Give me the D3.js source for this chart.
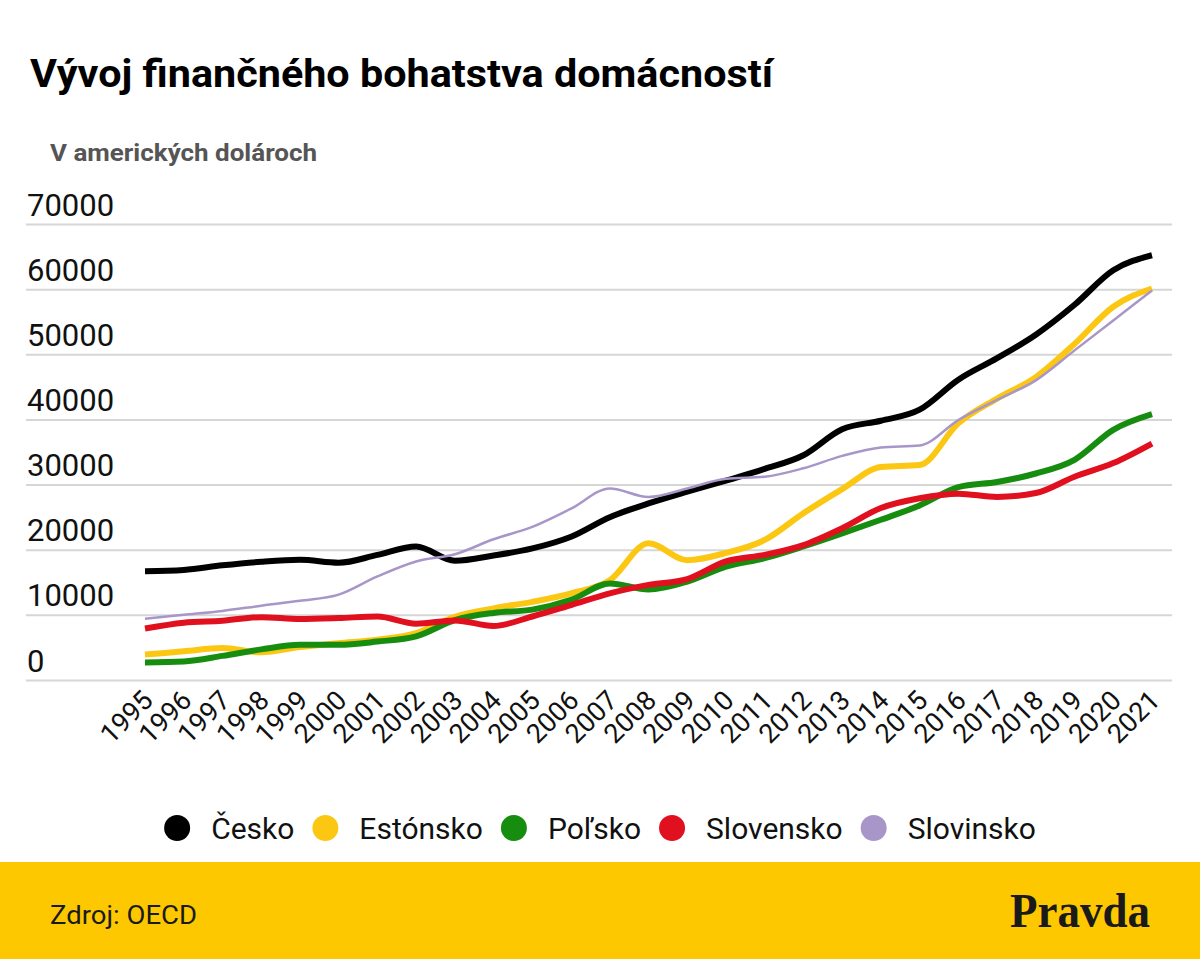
<!DOCTYPE html>
<html>
<head>
<meta charset="utf-8">
<script src="https://cdn.jsdelivr.net/npm/d3@7"></script>
<style>
  html, body { margin: 0; padding: 0; background: #fff; }
  svg { display: block; }
</style>
</head>
<body>
<svg id="chart" width="1200" height="959" font-family="Roboto, 'Noto Sans', sans-serif"></svg>
<script>
const years = [1995,1996,1997,1998,1999,2000,2001,2002,2003,2004,2005,2006,2007,2008,2009,2010,2011,2012,2013,2014,2015,2016,2017,2018,2019,2020,2021];
const cesko      = [16700,16900,17600,18150,18450,18000,19200,20500,18300,19100,20200,22000,25000,27100,28900,30600,32400,34500,38500,39800,41500,46100,49400,53000,57600,62900,65200];
const estonsko   = [3900,4400,4900,4250,5050,5650,6200,7200,9700,11000,12000,13300,15300,21000,18400,19500,21500,25600,29300,32700,33000,39400,43200,46500,51600,57300,60100];
const polsko     = [2700,2850,3700,4700,5400,5400,5900,6700,9200,10300,10800,12300,14800,13900,15100,17400,18700,20500,22500,24600,26800,29600,30400,31700,33800,38400,40800];
const slovensko  = [7900,8800,9100,9650,9350,9500,9750,8650,9150,8300,9750,11500,13300,14600,15500,18200,19200,20700,23300,26400,27900,28600,28100,28700,31200,33300,36300];
const slovinsko  = [9400,10000,10600,11400,12150,13100,15900,18200,19300,21600,23500,26300,29400,28100,29400,30900,31200,32500,34400,35700,36000,39900,43000,46000,50600,55200,59800];
const yTicks = [0,10000,20000,30000,40000,50000,60000,70000];
const seriesNames  = ["Česko","Estónsko","Poľsko","Slovensko","Slovinsko"];
const seriesColors = ["#000000","#fcc713","#178d10","#e1101f","#a996c9"];
const seriesWidths = [6,6,6,6,2.5];
const seriesValues = [cesko, estonsko, polsko, slovensko, slovinsko];
const title = "Vývoj finančného bohatstva domácností";
const subtitle = "V amerických dolároch";
const source = "Zdroj: OECD";
const brand = "Pravda";

const svg = d3.select("#chart");

const x = d3.scalePoint().domain(years).range([145, 1152]);
const y = d3.scaleLinear().domain([0, 70000]).range([680, 224]);

// Title & subtitle
svg.append("text").attr("x", 30).attr("y", 87)
  .attr("font-size", 39).attr("font-weight", 700).attr("fill", "#000")
  .attr("textLength", 743).attr("lengthAdjust", "spacingAndGlyphs")
  .text(title);
svg.append("text").attr("x", 50).attr("y", 161)
  .attr("font-size", 24).attr("font-weight", 700).attr("fill", "#555")
  .attr("textLength", 267).attr("lengthAdjust", "spacingAndGlyphs")
  .text(subtitle);

// Y grid + labels
const yAxis = d3.axisLeft(y).tickValues(yTicks).tickSize(0).tickFormat(d3.format("d"));
const gy = svg.append("g").call(yAxis);
gy.attr("font-family", null).attr("font-size", null);
gy.select(".domain").remove();
gy.selectAll(".tick line").remove();
gy.selectAll(".tick").append("line")
  .attr("x1", 26).attr("x2", 1172).attr("y1", 0).attr("y2", 0)
  .attr("stroke", "#d6d6d6").attr("stroke-width", 2);
gy.selectAll(".tick text")
  .attr("x", 27).attr("dy", -9).attr("text-anchor", "start")
  .attr("font-size", 31).attr("fill", "#111");

// X axis labels
const xAxis = d3.axisBottom(x).tickSize(0);
const gx = svg.append("g").attr("transform", "translate(0,680)").call(xAxis);
gx.attr("font-family", null).attr("font-size", null);
gx.select(".domain").remove();
gx.selectAll(".tick text")
  .attr("y", 0).attr("dy", 0)
  .attr("transform", "translate(9,22) rotate(-45)")
  .attr("text-anchor", "end")
  .attr("font-size", 27).attr("fill", "#111");

// Lines
const line = d3.line().x((d, i) => x(years[i])).y(d => y(d)).curve(d3.curveMonotoneX);
seriesValues.forEach((vals, k) => {
  svg.append("path")
    .datum(vals)
    .attr("fill", "none")
    .attr("stroke", seriesColors[k])
    .attr("stroke-width", seriesWidths[k])
    .attr("stroke-linejoin", "round")
    .attr("d", line);
});

// Legend
const lg = svg.append("g");
let cx = 0;
seriesNames.forEach((n, i) => {
  const g = lg.append("g").attr("transform", `translate(${cx},0)`);
  g.append("circle").attr("cx", 13).attr("cy", 0).attr("r", 13).attr("fill", seriesColors[i]);
  const t = g.append("text").attr("x", 47).attr("y", 10.5).attr("font-size", 30).attr("fill", "#111").text(n);
  const w = t.node().getComputedTextLength();
  cx += 47 + w + 18;
});
const totalW = cx - 18;
lg.attr("transform", `translate(${600 - totalW / 2},828)`);

// Footer
svg.append("rect").attr("x", 0).attr("y", 862).attr("width", 1200).attr("height", 97).attr("fill", "#fec800");
svg.append("text").attr("x", 50).attr("y", 924)
  .attr("font-size", 25).attr("fill", "#1a1a1a")
  .attr("textLength", 147).attr("lengthAdjust", "spacingAndGlyphs")
  .text(source);
svg.append("text").attr("x", 1150).attr("y", 927)
  .attr("text-anchor", "end")
  .style("font-family", "'Liberation Serif', 'DejaVu Serif', serif").attr("font-weight", 700)
  .attr("font-size", 48).attr("fill", "#1a1a1a")
  .attr("textLength", 140).attr("lengthAdjust", "spacingAndGlyphs")
  .text(brand);
</script>
</body>
</html>
